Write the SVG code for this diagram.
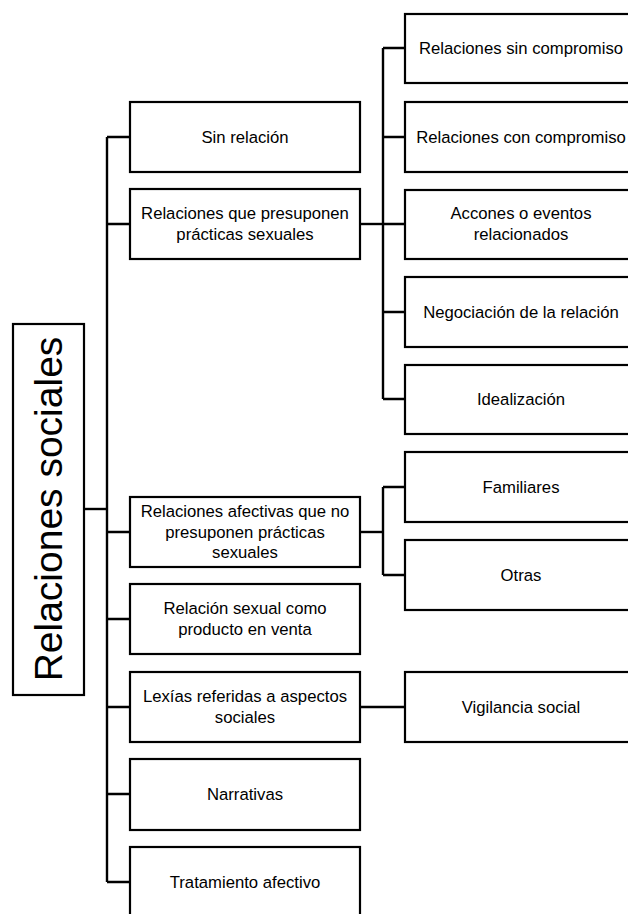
<svg xmlns="http://www.w3.org/2000/svg" width="628" height="914" viewBox="0 0 628 914">
  <style>
    .box { fill: #ffffff; stroke: #000000; stroke-width: 2.2; }
    .lbl { font-family: "Liberation Sans", Arial, sans-serif; font-size: 16.7px; fill: #000000; text-anchor: middle; }
    .root { font-family: "Liberation Sans", Arial, sans-serif; font-size: 39px; fill: #000000; text-anchor: middle; }
    .wire { fill: none; stroke: #000000; stroke-width: 2.4; }
  </style>
  <rect width="628" height="914" fill="#ffffff"/>

  <!-- connectors -->
  <g id="connectors">
    <!-- root to main spine -->
    <path class="wire" d="M84 509 H107"/>
    <path class="wire" d="M107 137 V882"/>
    <path class="wire" d="M107 137 H130 M107 224 H130 M107 532 H130 M107 619 H130 M107 707 H130 M107 794 H130 M107 882 H130"/>
    <!-- sexual practices branch -->
    <path class="wire" d="M360 224 H383"/>
    <path class="wire" d="M383 48 V399"/>
    <path class="wire" d="M383 48 H405 M383 137 H405 M383 224 H405 M383 312 H405 M383 399 H405"/>
    <!-- affective branch -->
    <path class="wire" d="M360 532 H383"/>
    <path class="wire" d="M383 487 V575"/>
    <path class="wire" d="M383 487 H405 M383 575 H405"/>
    <!-- social aspects branch -->
    <path class="wire" d="M360 707 H405"/>
  </g>

  <!-- root -->
  <g id="root">
    <rect class="box" x="13" y="324" width="71" height="371"/>
    <text class="root" transform="translate(62,509) rotate(-90)" x="0" y="0">Relaciones sociales</text>
  </g>

  <!-- second level -->
  <g id="sin-relacion">
    <rect class="box" x="130" y="102" width="230" height="70"/>
    <text class="lbl" x="245" y="143">Sin relación</text>
  </g>
  <g id="presuponen">
    <rect class="box" x="130" y="189" width="230" height="70"/>
    <text class="lbl" x="245" y="219">Relaciones que presuponen</text>
    <text class="lbl" x="245" y="240">prácticas sexuales</text>
  </g>
  <g id="afectivas">
    <rect class="box" x="130" y="497" width="230" height="70"/>
    <text class="lbl" x="245" y="517">Relaciones afectivas que no</text>
    <text class="lbl" x="245" y="538">presuponen prácticas</text>
    <text class="lbl" x="245" y="558">sexuales</text>
  </g>
  <g id="venta">
    <rect class="box" x="130" y="584" width="230" height="70"/>
    <text class="lbl" x="245" y="614">Relación sexual como</text>
    <text class="lbl" x="245" y="635">producto en venta</text>
  </g>
  <g id="lexias">
    <rect class="box" x="130" y="672" width="230" height="70"/>
    <text class="lbl" x="245" y="702">Lexías referidas a aspectos</text>
    <text class="lbl" x="245" y="723">sociales</text>
  </g>
  <g id="narrativas">
    <rect class="box" x="130" y="759" width="230" height="71"/>
    <text class="lbl" x="245" y="800">Narrativas</text>
  </g>
  <g id="tratamiento">
    <rect class="box" x="130" y="847" width="230" height="71"/>
    <text class="lbl" x="245" y="888">Tratamiento afectivo</text>
  </g>

  <!-- third level -->
  <g id="sin-compromiso">
    <rect class="box" x="405" y="14" width="232" height="69"/>
    <text class="lbl" x="521" y="54">Relaciones sin compromiso</text>
  </g>
  <g id="con-compromiso">
    <rect class="box" x="405" y="102" width="232" height="70"/>
    <text class="lbl" x="521" y="143">Relaciones con compromiso</text>
  </g>
  <g id="acciones">
    <rect class="box" x="405" y="190" width="232" height="69"/>
    <text class="lbl" x="521" y="219">Accones o eventos</text>
    <text class="lbl" x="521" y="240">relacionados</text>
  </g>
  <g id="negociacion">
    <rect class="box" x="405" y="277" width="232" height="70"/>
    <text class="lbl" x="521" y="318">Negociación de la relación</text>
  </g>
  <g id="idealizacion">
    <rect class="box" x="405" y="365" width="232" height="69"/>
    <text class="lbl" x="521" y="405">Idealización</text>
  </g>
  <g id="familiares">
    <rect class="box" x="405" y="452" width="232" height="70"/>
    <text class="lbl" x="521" y="493">Familiares</text>
  </g>
  <g id="otras">
    <rect class="box" x="405" y="540" width="232" height="70"/>
    <text class="lbl" x="521" y="581">Otras</text>
  </g>
  <g id="vigilancia">
    <rect class="box" x="405" y="672" width="232" height="70"/>
    <text class="lbl" x="521" y="713">Vigilancia social</text>
  </g>
</svg>
